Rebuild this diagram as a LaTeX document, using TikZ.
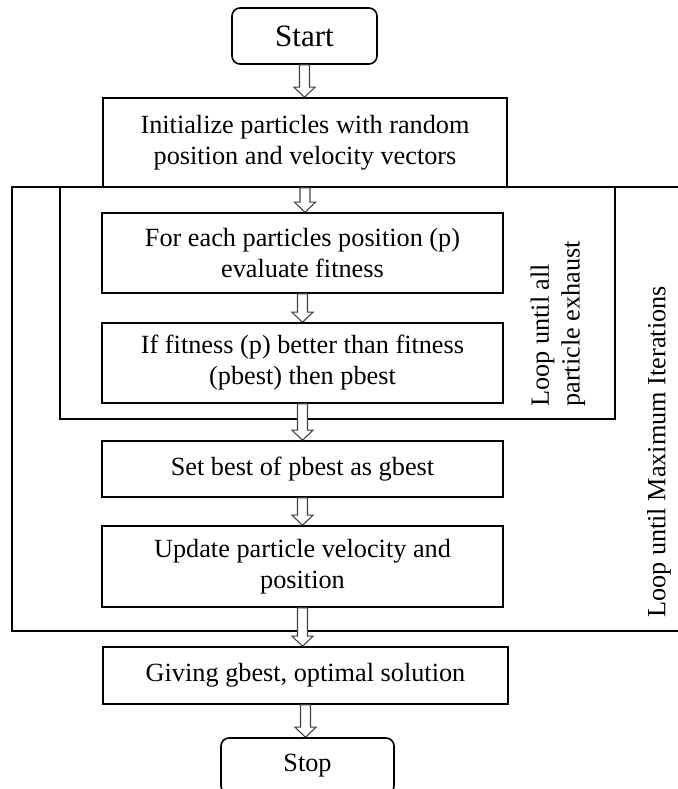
\documentclass[tikz,border=0pt]{standalone}
\usepackage{fontspec}
\setmainfont{Liberation Serif}
\usetikzlibrary{calc}

\begin{document}
\begin{tikzpicture}[x = 0.75pt, y = -0.75pt, line join = miter,
        stepbox/.style = {draw, line width = 1.2pt, align = center, inner sep = 0pt, font = \fontsize{19.7}{23.3}\selectfont},
        termbox/.style = {stepbox, rounded corners = 6pt},
        loopbox/.style = {draw, line width = 1.2pt},
        looplabel/.style = {rotate = 90, align = left, inner sep = 0pt, font = \fontsize{19.7}{23}\selectfont},
        blockarrow/.style = {draw = black!75, fill = white, line width = 0.8pt, to path = {
            let \p1 = (\tikztostart), \p2 = (\tikztotarget) in
            (\x1 - 3.75pt, \y1) -- (\x1 + 3.75pt, \y1) -- (\x1 + 3.75pt, \y2 + 7.5pt) -- (\x1 + 7.9pt, \y2 + 7.5pt)
            -- (\x1, \y2) -- (\x1 - 7.9pt, \y2 + 7.5pt) -- (\x1 - 3.75pt, \y2 + 7.5pt) -- cycle}}]
        %
        \def\px{0.75pt}
        \def\BoxWidth{401}
        %
        \useasboundingbox (0, 0) rectangle (678, 789);
        \clip (0, 0) rectangle (678, 789);

        % loops
        \draw [loopbox] (12, 187) rectangle (700, 631);
        \draw [loopbox] (60, 187) rectangle (615, 419);
        \node [looplabel] (innerlbl) at (558, 324) {Loop until all\\particle exhaust};
        \node [looplabel] (outerlbl) at (659, 452) {Loop until Maximum Iterations};

        % steps
        \node [termbox, minimum width = 145*\px, minimum height = 56*\px, font = \fontsize{23.3}{26}\selectfont] (start) at (304.5, 36) {Start};
        \node [stepbox, minimum width = 404*\px, minimum height = 89*\px] (init) at (305, 142.5) {Initialize particles with random\\position and velocity vectors};
        \node [stepbox, minimum width = \BoxWidth*\px, minimum height = 80*\px] (each) at (302.5, 253) {For each particles position (p)\\evaluate fitness};
        \node [stepbox, minimum width = \BoxWidth*\px, minimum height = 80*\px] (better) at (302.5, 363) {If fitness (p) better than fitness\\(pbest) then pbest};
        \node [stepbox, minimum width = \BoxWidth*\px, minimum height = 56*\px] (setbest) at (302.5, 469) {Set best of pbest as gbest};
        \node [stepbox, minimum width = \BoxWidth*\px, minimum height = 81*\px] (update) at (302.5, 566.5) {Update particle velocity and\\position};
        \node [stepbox, minimum width = 405*\px, minimum height = 57*\px] (giving) at (305.5, 675.5) {Giving gbest, optimal solution};
        \node [termbox, minimum width = 173*\px, minimum height = 56*\px] (stop) at (307.5, 766) {Stop};

        % arrows
        \foreach \from/\to in {start/init, init/each, each/better, better/setbest, setbest/update, update/giving, giving/stop}
        {
            \draw [blockarrow] (\from.south) to (\to.north);
        }
    \end{tikzpicture}
\end{document}
